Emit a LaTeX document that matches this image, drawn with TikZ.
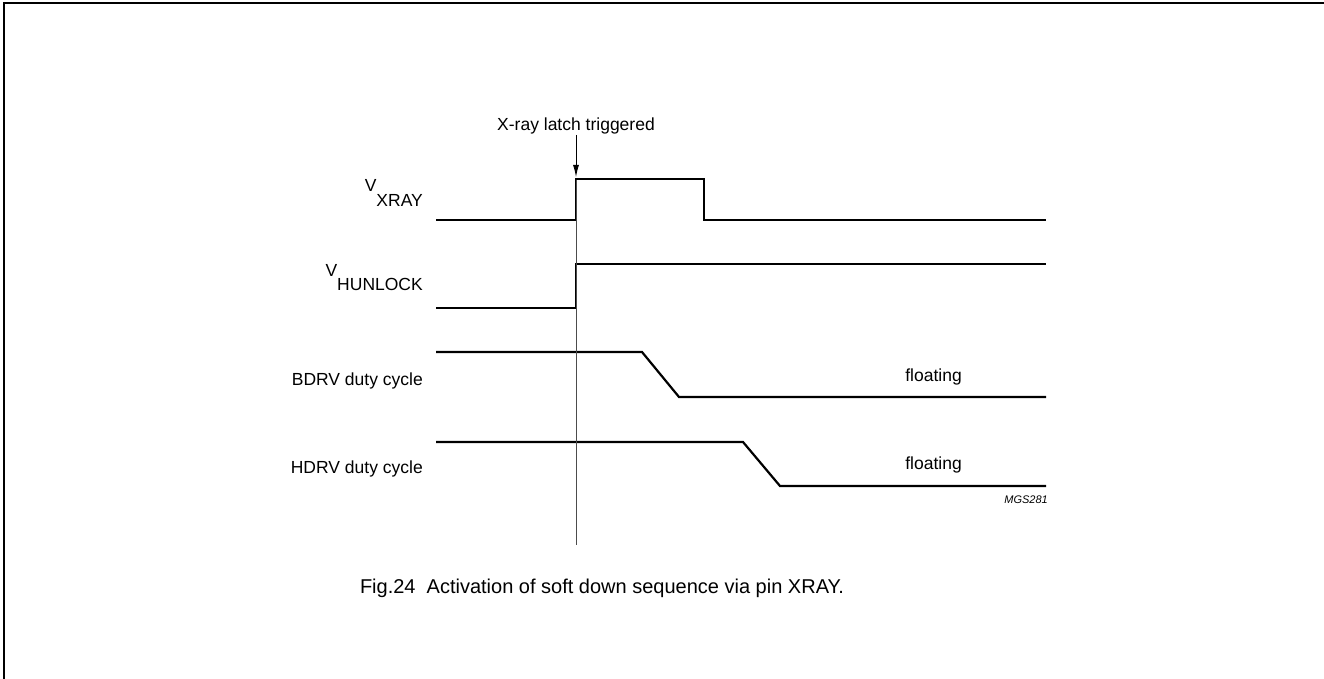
\documentclass[tikz,border=0pt]{standalone}
\usepackage{fontspec}
\setmainfont{Liberation Sans}
\usetikzlibrary{arrows.meta}
\tikzset{wave/.style={line width=2.2pt,line join=miter},lbl/.style={font=\fontsize{17.5}{20}\selectfont,inner sep=0pt},flow/.style={-{Latex[length=12pt,width=6pt]},line width=0.9pt},marker/.style={line width=0.8pt,draw=black!70},frame/.style={line width=2pt}}

\begin{document}
\begin{tikzpicture}[x=1pt,y=-1pt]
\useasboundingbox (0,0) rectangle (1324,679);
\draw[frame] (4,679) -- (4,3) -- (1324,3);
% signal names
\node[lbl,anchor=base east] (vxray) at (423,192) {V\raisebox{-14pt}{XRAY}};
\node[lbl,anchor=base east] (vhunlock) at (423,276) {V\raisebox{-14pt}{HUNLOCK}};
\node[lbl,anchor=base east] (bdrv) at (423,385) {BDRV duty cycle};
\node[lbl,anchor=base east] (hdrv) at (423,473) {HDRV duty cycle};
% waveforms
\draw[wave] (436,220) -- (576,220) -- (576,179) -- (704,179) -- (704,220) -- (1046,220);
\draw[wave] (436,308) -- (576,308) -- (576,264) -- (1046,264);
\draw[wave] (436,352) -- (642,352) -- (679,397) -- (1046,397);
\draw[wave] (436,442) -- (743,442) -- (780,486) -- (1046,486);
\node[lbl,anchor=base east] (bfloat) at (962,381) {floating};
\node[lbl,anchor=base east] (hfloat) at (962,469) {floating};
% trigger
\node[lbl,anchor=base] (latch) at (576,131) {X-ray latch triggered};
\coordinate (trig) at (576,177);
\coordinate (marktop) at (576,180);
\coordinate (markbot) at (576,545);
\draw[flow] (latch) -- (trig);
\draw[marker] (marktop) -- (markbot);
\node[anchor=base east,inner sep=0pt,font=\fontsize{11}{13}\selectfont\itshape] (code) at (1048,503) {MGS281};
\node[anchor=base,inner sep=0pt,font=\fontsize{20}{24}\selectfont] (caption) at (602,593) {Fig.24\ \ Activation of soft down sequence via pin XRAY.};
\end{tikzpicture}
\end{document}
